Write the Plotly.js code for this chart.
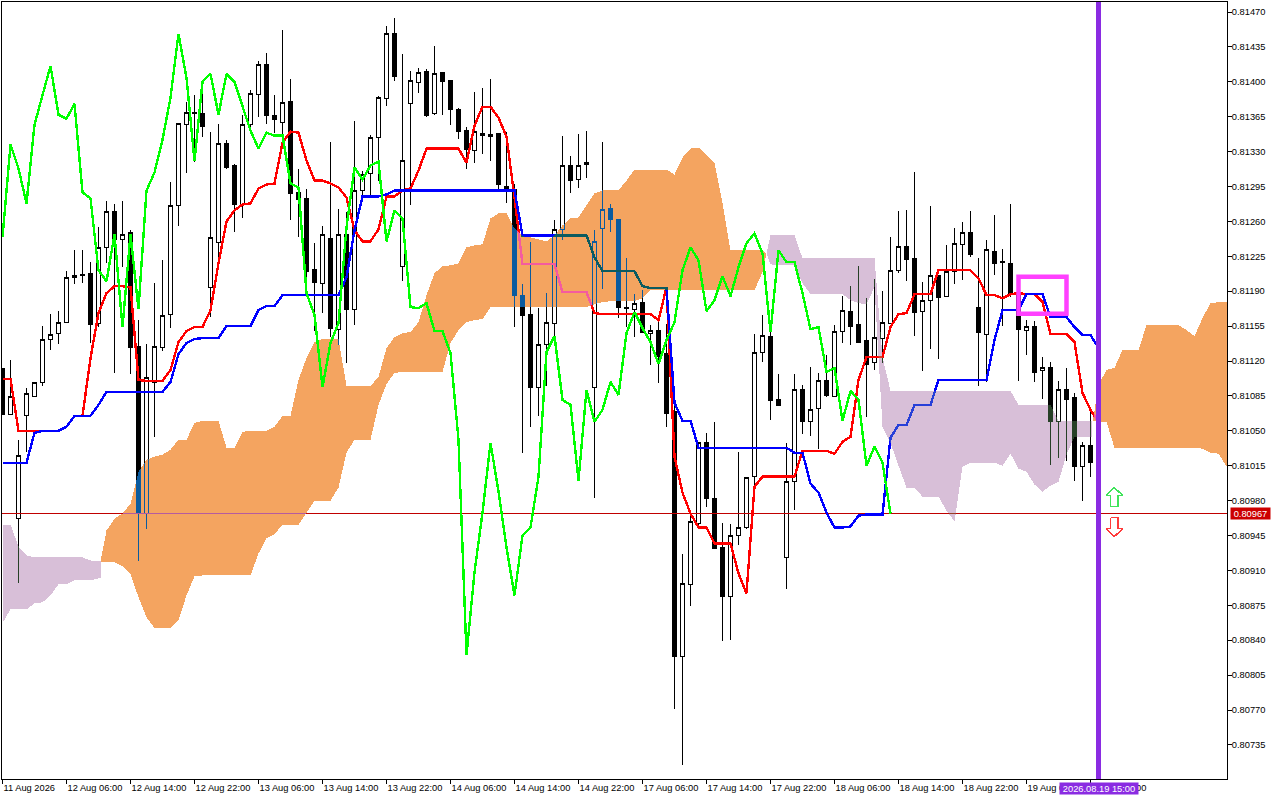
<!DOCTYPE html>
<html>
<head>
<meta charset="utf-8">
<script src="https://cdn.plot.ly/plotly-3.0.1.min.js"></script>
<style>html,body{margin:0;padding:0;background:#fff;overflow:hidden}#chart{width:1280px;height:800px}
.boxlayer path,.scatterlayer path{shape-rendering:crispEdges}</style>
</head>
<body>
<div id="chart"></div>
<script>
const tickBars = [0,8,16,24,32,40,48,56,64,72,80,88,96,104,112,120,128,136];
const tickLabels = ["11 Aug 2026","12 Aug 06:00","12 Aug 14:00","12 Aug 22:00","13 Aug 06:00","13 Aug 14:00","13 Aug 22:00","14 Aug 06:00","14 Aug 14:00","14 Aug 22:00","17 Aug 06:00","17 Aug 14:00","17 Aug 22:00","18 Aug 06:00","18 Aug 14:00","18 Aug 22:00","19 Aug 06:00","19 Aug 14:00"];

const opens = [0.81112,0.81066,0.80962,0.81065,0.81084,0.81098,0.81142,0.81148,0.81159,0.81204,
0.81206,0.81208,0.81158,0.81234,0.81270,0.81242,0.81249,0.81135,0.80967,0.81098,
0.81134,0.81167,0.81276,0.81357,0.81369,0.81368,0.81194,0.81239,0.81338,0.81316,
0.81277,0.81357,0.81387,0.81417,0.81366,0.81359,0.81380,0.81289,0.81283,0.81212,
0.81198,0.81243,0.81152,0.81247,0.81172,0.81291,0.81308,0.81344,0.81383,0.81448,
0.81215,0.81378,0.81399,0.81410,0.81368,0.81409,0.81401,0.81372,0.81351,0.81331,
0.81348,0.81347,0.81348,0.81295,0.81292,0.81186,0.81167,0.81093,0.81137,0.81158,
0.81252,0.81316,0.81302,0.81317,0.81093,0.81253,0.81273,0.81262,0.81174,0.81172,
0.81179,0.81148,0.81151,0.81128,0.81069,0.80824,0.80896,0.80957,0.81038,0.80982,
0.80933,0.80884,0.80945,0.80953,0.81004,0.81129,0.81145,0.81081,0.80923,0.80999,
0.81091,0.81059,0.81072,0.81100,0.81084,0.81150,0.81170,0.81157,0.81141,0.81118,
0.81143,0.81158,0.81211,0.81235,0.81223,0.81170,0.81181,0.81206,0.81185,0.81210,
0.81237,0.81249,0.81174,0.81147,0.81230,0.81219,0.81218,0.81186,0.81151,0.81155,
0.81110,0.81113,0.81059,0.81091,0.81083,0.81014,0.81035];

const highs = [0.81112,0.81121,0.81041,0.81093,0.81098,0.81155,0.81167,0.81170,0.81210,0.81231,
0.81231,0.81219,0.81254,0.81280,0.81277,0.81280,0.81251,0.81161,0.81137,0.81198,
0.81221,0.81300,0.81359,0.81380,0.81387,0.81389,0.81350,0.81358,0.81342,0.81318,
0.81367,0.81392,0.81421,0.81429,0.81387,0.81452,0.81403,0.81313,0.81292,0.81238,
0.81255,0.81340,0.81272,0.81269,0.81361,0.81311,0.81347,0.81386,0.81456,0.81464,
0.81428,0.81411,0.81414,0.81413,0.81436,0.81409,0.81402,0.81374,0.81355,0.81390,
0.81394,0.81403,0.81349,0.81350,0.81298,0.81197,0.81239,0.81173,0.81188,0.81261,
0.81346,0.81326,0.81348,0.81351,0.81251,0.81340,0.81277,0.81262,0.81223,0.81187,
0.81191,0.81156,0.81159,0.81157,0.81081,0.80926,0.80967,0.81039,0.81048,0.81059,
0.80958,0.80957,0.81029,0.81003,0.81147,0.81166,0.81149,0.81107,0.81038,0.81107,
0.81096,0.81114,0.81108,0.81126,0.81156,0.81185,0.81195,0.81215,0.81183,0.81202,
0.81190,0.81244,0.81270,0.81271,0.81310,0.81199,0.81275,0.81206,0.81236,0.81253,
0.81259,0.81270,0.81223,0.81241,0.81266,0.81232,0.81277,0.81189,0.81161,0.81160,
0.81124,0.81119,0.81100,0.81113,0.81088,0.81039,0.81071];

const lows = [0.81066,0.81066,0.80897,0.81029,0.81084,0.81095,0.81131,0.81137,0.81158,0.81197,
0.81198,0.81138,0.81154,0.81218,0.81108,0.81214,0.81107,0.80919,0.80952,0.81044,
0.81130,0.81153,0.81255,0.81309,0.81320,0.81345,0.81164,0.81223,0.81313,0.81249,
0.81263,0.81355,0.81365,0.81358,0.81349,0.81345,0.81261,0.81244,0.81199,0.81150,
0.81168,0.81144,0.81136,0.81118,0.81156,0.81286,0.81286,0.81301,0.81376,0.81401,
0.81200,0.81276,0.81389,0.81365,0.81367,0.81367,0.81357,0.81343,0.81313,0.81319,
0.81328,0.81321,0.81291,0.81278,0.81154,0.81028,0.81054,0.81065,0.81095,0.81144,
0.81241,0.81288,0.81294,0.81304,0.80983,0.81192,0.81249,0.81163,0.81154,0.81144,
0.81149,0.81116,0.81098,0.81054,0.80771,0.80715,0.80874,0.80954,0.80974,0.80932,
0.80839,0.80840,0.80935,0.80952,0.80994,0.81119,0.81061,0.81075,0.80891,0.80971,
0.81047,0.81045,0.81032,0.81084,0.81084,0.81138,0.81136,0.81138,0.81064,0.81111,
0.81118,0.81157,0.81208,0.81200,0.81145,0.81110,0.81132,0.81122,0.81184,0.81197,
0.81201,0.81224,0.81095,0.81099,0.81206,0.81155,0.81184,0.81100,0.81126,0.81099,
0.81082,0.81016,0.81023,0.81020,0.81000,0.80980,0.81004];

const closes = [0.81066,0.81084,0.81025,0.81087,0.81098,0.81142,0.81147,0.81159,0.81204,0.81206,
0.81207,0.81157,0.81234,0.81270,0.81242,0.81247,0.81134,0.80967,0.81103,0.81135,
0.81166,0.81276,0.81358,0.81369,0.81368,0.81355,0.81244,0.81338,0.81314,0.81277,
0.81357,0.81388,0.81417,0.81366,0.81362,0.81379,0.81288,0.81282,0.81210,0.81199,
0.81247,0.81153,0.81247,0.81172,0.81291,0.81307,0.81344,0.81384,0.81448,0.81405,
0.81321,0.81401,0.81409,0.81366,0.81408,0.81400,0.81372,0.81350,0.81332,0.81350,
0.81346,0.81345,0.81297,0.81293,0.81186,0.81166,0.81093,0.81137,0.81159,0.81252,
0.81316,0.81301,0.81316,0.81319,0.81240,0.81272,0.81262,0.81174,0.81173,0.81178,
0.81149,0.81151,0.81125,0.81067,0.80824,0.80897,0.80959,0.81038,0.80982,0.80932,
0.80884,0.80945,0.80953,0.81003,0.81129,0.81146,0.81080,0.81075,0.80999,0.81091,
0.81059,0.81071,0.81100,0.81085,0.81150,0.81171,0.81155,0.81139,0.81116,0.81144,
0.81159,0.81211,0.81235,0.81222,0.81169,0.81181,0.81206,0.81184,0.81210,0.81238,
0.81249,0.81227,0.81149,0.81232,0.81218,0.81220,0.81188,0.81152,0.81155,0.81108,
0.81113,0.81059,0.81091,0.81081,0.81014,0.81035,0.81018];

const tenkan = [0.81102,0.81102,0.81050,0.81050,0.81050,0.81050,0.81050,0.81050,0.81054,0.81065,
0.81065,0.81123,0.81168,0.81188,0.81195,0.81195,0.81194,0.81101,0.81100,0.81100,
0.81100,0.81111,0.81139,0.81150,0.81154,0.81154,0.81171,0.81218,0.81260,0.81271,
0.81277,0.81278,0.81293,0.81297,0.81298,0.81339,0.81350,0.81349,0.81321,0.81301,
0.81301,0.81298,0.81294,0.81284,0.81251,0.81240,0.81240,0.81252,0.81285,0.81285,
0.81291,0.81293,0.81311,0.81333,0.81333,0.81333,0.81333,0.81333,0.81319,0.81356,
0.81375,0.81375,0.81364,0.81345,0.81284,0.81217,0.81217,0.81217,0.81217,0.81217,
0.81189,0.81189,0.81189,0.81189,0.81168,0.81167,0.81167,0.81167,0.81167,0.81167,
0.81167,0.81167,0.81161,0.81194,0.81024,0.80988,0.80967,0.80953,0.80953,0.80937,
0.80937,0.80937,0.80907,0.80887,0.80994,0.81004,0.81004,0.81004,0.81004,0.81004,
0.81030,0.81030,0.81030,0.81030,0.81027,0.81039,0.81044,0.81101,0.81124,0.81124,
0.81124,0.81154,0.81167,0.81168,0.81187,0.81187,0.81187,0.81211,0.81211,0.81211,
0.81211,0.81211,0.81203,0.81186,0.81186,0.81183,0.81187,0.81188,0.81187,0.81187,
0.81179,0.81147,0.81147,0.81147,0.81139,0.81088,0.81071,0.81059];

const kijun = [0.81018,0.81018,0.81018,0.81018,0.81048,0.81050,0.81050,0.81050,0.81054,0.81065,
0.81065,0.81065,0.81076,0.81089,0.81089,0.81089,0.81089,0.81089,0.81089,0.81089,
0.81089,0.81099,0.81127,0.81138,0.81142,0.81143,0.81143,0.81143,0.81155,0.81155,
0.81155,0.81155,0.81171,0.81175,0.81175,0.81186,0.81186,0.81186,0.81186,0.81186,
0.81186,0.81186,0.81186,0.81204,0.81251,0.81285,0.81285,0.81285,0.81287,0.81291,
0.81291,0.81291,0.81291,0.81291,0.81291,0.81291,0.81291,0.81291,0.81291,0.81291,
0.81291,0.81291,0.81291,0.81291,0.81291,0.81246,0.81246,0.81246,0.81246,0.81246,
0.81246,0.81246,0.81246,0.81246,0.81224,0.81210,0.81210,0.81210,0.81210,0.81210,
0.81195,0.81193,0.81193,0.81193,0.81078,0.81060,0.81060,0.81033,0.81033,0.81033,
0.81033,0.81033,0.81033,0.81033,0.81033,0.81033,0.81033,0.81033,0.81033,0.81028,
0.81028,0.80997,0.80988,0.80968,0.80953,0.80953,0.80954,0.80965,0.80966,0.80966,
0.80966,0.81043,0.81056,0.81056,0.81076,0.81076,0.81076,0.81101,0.81101,0.81101,
0.81101,0.81101,0.81101,0.81101,0.81141,0.81171,0.81171,0.81171,0.81187,0.81187,
0.81187,0.81164,0.81164,0.81164,0.81154,0.81146,0.81146,0.81133];

const chikou = [0.81244,0.81337,0.81313,0.81278,0.81357,0.81387,0.81416,0.81367,0.81363,0.81378,
0.81289,0.81283,0.81211,0.81200,0.81247,0.81154,0.81247,0.81172,0.81291,0.81309,
0.81342,0.81384,0.81448,0.81404,0.81321,0.81400,0.81408,0.81367,0.81408,0.81400,
0.81375,0.81351,0.81333,0.81349,0.81346,0.81346,0.81298,0.81294,0.81188,0.81166,
0.81094,0.81138,0.81158,0.81254,0.81314,0.81302,0.81316,0.81320,0.81240,0.81271,
0.81263,0.81174,0.81173,0.81178,0.81150,0.81150,0.81128,0.81041,0.80825,0.80908,
0.80968,0.81038,0.80989,0.80933,0.80885,0.80945,0.80953,0.81004,0.81129,0.81145,
0.81081,0.81076,0.81000,0.81091,0.81059,0.81071,0.81099,0.81086,0.81148,0.81169,
0.81153,0.81139,0.81117,0.81141,0.81159,0.81211,0.81234,0.81221,0.81170,0.81181,
0.81205,0.81185,0.81214,0.81238,0.81248,0.81228,0.81149,0.81231,0.81219,0.81219,
0.81188,0.81152,0.81154,0.81109,0.81113,0.81060,0.81090,0.81081,0.81015,0.81034,
0.81018,0.80967];

// Kumo, segment by segment
const thistleAX = [0,1,2,3,4,5,6,7,8,9,10,11,12,12.25];
const thistleATop = [0.80956,0.80956,0.80934,0.80925,0.80923,0.80923,0.80923,0.80923,0.80923,0.80923,0.80923,0.80920,0.80919,0.80919];
const thistleABottom = [0.80857,0.80871,0.80871,0.80871,0.80877,0.80878,0.80885,0.80896,0.80896,0.80900,0.80900,0.80900,0.80902,0.80902];

const orangeAX = [12.25,13,14,15,16,17,18,19,20,21,22,23,24,25,26,27,28,29,30,31,32,33,34,35,36,37,38,39,40,41,42,43,44,45,46,47,48,49,50,51,52,53,54,55,56,57,58,59,60,61,62,63,64,65,66,67,68,69,70,71,72,73,74,75,76,77,78,79,80,81,82,83,84,85,86,87,88,89,90,91,92,93,94,95,95.5];
const orangeATop = [0.80919,0.80950,0.80962,0.80967,0.80977,0.81009,0.81021,0.81024,0.81026,0.81031,0.81041,0.81041,0.81058,0.81060,0.81060,0.81060,0.81033,0.81033,0.81049,0.81050,0.81050,0.81050,0.81054,0.81065,0.81065,0.81101,0.81123,0.81139,0.81142,0.81142,0.81142,0.81095,0.81095,0.81095,0.81095,0.81104,0.81133,0.81144,0.81148,0.81149,0.81159,0.81186,0.81208,0.81215,0.81216,0.81218,0.81234,0.81236,0.81237,0.81263,0.81268,0.81268,0.81253,0.81245,0.81244,0.81242,0.81240,0.81246,0.81256,0.81263,0.81264,0.81276,0.81288,0.81291,0.81291,0.81291,0.81301,0.81312,0.81312,0.81312,0.81312,0.81312,0.81307,0.81324,0.81333,0.81334,0.81327,0.81319,0.81278,0.81231,0.81231,0.81231,0.81231,0.81231,0.81228];
const orangeABottom = [0.80919,0.80918,0.80918,0.80914,0.80906,0.80883,0.80863,0.80852,0.80852,0.80852,0.80860,0.80885,0.80904,0.80905,0.80905,0.80905,0.80905,0.80905,0.80905,0.80905,0.80927,0.80942,0.80946,0.80956,0.80956,0.80956,0.80968,0.80980,0.80980,0.80980,0.80993,0.81028,0.81041,0.81041,0.81041,0.81076,0.81097,0.81108,0.81109,0.81109,0.81109,0.81109,0.81109,0.81109,0.81138,0.81151,0.81159,0.81161,0.81162,0.81174,0.81174,0.81174,0.81174,0.81174,0.81174,0.81174,0.81174,0.81174,0.81174,0.81174,0.81174,0.81174,0.81177,0.81179,0.81180,0.81180,0.81180,0.81180,0.81183,0.81191,0.81191,0.81191,0.81191,0.81191,0.81191,0.81191,0.81191,0.81191,0.81191,0.81191,0.81191,0.81191,0.81191,0.81209,0.81228];

const thistleBX = [95.5,96,97,98,99,100,101,102,103,104,105,106,107,108,109,110,111,112,113,114,115,116,117,118,119,120,121,122,123,124,125,126,127,128,129,130,131,132,133,134,135,136,136.2];
const thistleBTop = [0.81228,0.81246,0.81246,0.81246,0.81246,0.81223,0.81223,0.81223,0.81223,0.81223,0.81223,0.81223,0.81223,0.81223,0.81223,0.81124,0.81090,0.81090,0.81090,0.81090,0.81090,0.81090,0.81090,0.81090,0.81090,0.81090,0.81090,0.81090,0.81090,0.81090,0.81090,0.81090,0.81076,0.81076,0.81076,0.81076,0.81076,0.81060,0.81060,0.81060,0.81060,0.81060,0.81060];
const thistleBBottom = [0.81228,0.81217,0.81216,0.81216,0.81216,0.81198,0.81187,0.81187,0.81187,0.81187,0.81187,0.81181,0.81178,0.81177,0.81194,0.81054,0.81038,0.81015,0.80993,0.80993,0.80984,0.80984,0.80984,0.80970,0.80959,0.81014,0.81018,0.81018,0.81018,0.81018,0.81015,0.81027,0.81012,0.81009,0.80996,0.80989,0.80995,0.80999,0.81026,0.81044,0.81044,0.81044,0.81044];

const orangeBX = [136.3,137,138,139,140,141,142,143,144,145,146,147,148,149,150,151,152,153.1];
const orangeBTop = [0.81060,0.81096,0.81111,0.81113,0.81131,0.81131,0.81131,0.81156,0.81156,0.81156,0.81156,0.81156,0.81151,0.81145,0.81163,0.81178,0.81179,0.81179];
const orangeBBottom = [0.81060,0.81059,0.81059,0.81033,0.81033,0.81033,0.81033,0.81033,0.81033,0.81033,0.81033,0.81033,0.81033,0.81033,0.81032,0.81028,0.81027,0.81013];

const bidPrice = 0.80967;
const bidLabel = "0.80967";
const cursorBar = 137;
const cursorLabel = "2026.08.19 15:00";
const boxBars = [127,133];
const boxPrices = [0.811675,0.812045];
const arrowUpX = [138.98,140.06,139.44,139.44,138.5,138.5,137.94,138.98];
const arrowUpY = [0.80993,0.80985,0.80985,0.80974,0.80974,0.80985,0.80985,0.80993];
const arrowDownX = [138.5,139.44,139.44,140.06,138.98,137.94,138.5,138.5];
const arrowDownY = [0.80963,0.80963,0.80952,0.80952,0.80944,0.80952,0.80952,0.80963];

const bars = opens.map((_, i) => i);
const lineBars = tenkan.map((_, i) => i);
const allBars = [-0.1, 153.1];

const band = (x, top, bottom, color) => [
  {type:'scatter', x:x, y:bottom, mode:'lines', line:{width:0, color:color}, hoverinfo:'skip'},
  {type:'scatter', x:x, y:top, mode:'lines', line:{width:0, color:color}, fill:'tonexty', fillcolor:color, hoverinfo:'skip'}
];
const line = (x, y, color, width) => ({type:'scatter', mode:'lines', x:x, y:y, line:{color:color, width:width}, hoverinfo:'skip'});

const traces = [
  {type:'candlestick', x:bars, open:opens, high:highs, low:lows, close:closes, whiskerwidth:0, hoverinfo:'skip',
   increasing:{line:{color:'#000000', width:1}, fillcolor:'#ffffff'},
   decreasing:{line:{color:'#000000', width:1}, fillcolor:'#000000'}},
  line(allBars, [bidPrice, bidPrice], '#C00000', 1),
  line(lineBars, tenkan, '#FF0000', 2.4),
  line(lineBars, kijun, '#0000FF', 2.4),
  // fill colours are the inverted kumo colours; they are drawn in difference mode below
  ...band(thistleAX, thistleATop, thistleABottom, '#274027'),
  ...band(orangeAX, orangeATop, orangeABottom, '#0B5B9F'),
  ...band(thistleBX, thistleBTop, thistleBBottom, '#274027'),
  ...band(orangeBX, orangeBTop, orangeBBottom, '#0B5B9F'),
  line(chikou.map((_, i) => i), chikou, '#00FF00', 2.4),
  line(arrowUpX, arrowUpY, '#3FE35A', 1.5),
  line(arrowDownX, arrowDownY, '#FF3A3A', 1.5)
];

const axisFont = {family:'"Liberation Sans", Arial, sans-serif', size:9.3, color:'#000000'};

const layout = {
  width:1280, height:800,
  margin:{l:2, r:53, t:2, b:21, pad:0},
  paper_bgcolor:'#ffffff', plot_bgcolor:'#ffffff',
  showlegend:false, hovermode:false, boxgap:0.5, boxgroupgap:0,
  font:axisFont,
  xaxis:{type:'linear', range:[-0.0625,153.0625], tickmode:'array', tickvals:tickBars, ticktext:tickLabels,
    tickangle:0, ticks:'outside', ticklen:4, tickwidth:1, tickcolor:'#000000', tickfont:axisFont,
    ticklabelposition:'outside right', showgrid:false, zeroline:false, showline:true, linecolor:'#000000', linewidth:1, mirror:true,
    rangeslider:{visible:false}, fixedrange:true, automargin:false},
  yaxis:{side:'right', range:[0.8070080,0.8148003], tick0:0.80735, dtick:0.00035, tickformat:'.5f',
    ticks:'outside', ticklen:4, tickwidth:1, tickcolor:'#000000', tickfont:axisFont, ticklabelstandoff:-2,
    showgrid:false, zeroline:false, showline:true, linecolor:'#000000', linewidth:1, mirror:true, fixedrange:true, automargin:false},
  shapes:[
    {type:'line', layer:'above', xref:'x', yref:'paper', x0:cursorBar, x1:cursorBar, y0:0, y1:1, line:{color:'#8A2BE2', width:5}},
    {type:'rect', layer:'above', xref:'x', yref:'y', x0:boxBars[0], x1:boxBars[1], y0:boxPrices[0], y1:boxPrices[1], line:{color:'#FF40FF', width:4.5}, fillcolor:'rgba(0,0,0,0)'}
  ],
  annotations:[
    {xref:'paper', yref:'y', x:1.00245, y:bidPrice, text:bidLabel, showarrow:false, xanchor:'left', yanchor:'middle',
     width:39, height:11, bgcolor:'#CC0000', borderpad:0, font:{family:axisFont.family, size:9.3, color:'#ffffff'}},
    {xref:'paper', yref:'paper', x:0.8629, y:-0.0206, text:cursorLabel, showarrow:false, xanchor:'left', yanchor:'bottom',
     width:78, height:11, bgcolor:'#8A2BE2', borderpad:0, font:{family:axisFont.family, size:9.3, color:'#ffffff'}}
  ]
};

Plotly.newPlot('chart', traces, layout, {displayModeBar:false, staticPlot:true}).then(gd => {
  // white backdrop inside the plot group so the difference-mode kumo inverts what lies under it
  const plotGroup = gd.querySelector('.scatterlayer').parentNode;
  const back = document.createElementNS('http://www.w3.org/2000/svg', 'rect');
  back.setAttribute('width', gd._fullLayout._size.w);
  back.setAttribute('height', gd._fullLayout._size.h);
  back.setAttribute('fill', '#ffffff');
  plotGroup.insertBefore(back, plotGroup.firstChild);
  gd.querySelectorAll('.scatterlayer .js-fill').forEach(f => { f.style.mixBlendMode = 'difference'; });
});
</script>
</body>
</html>
